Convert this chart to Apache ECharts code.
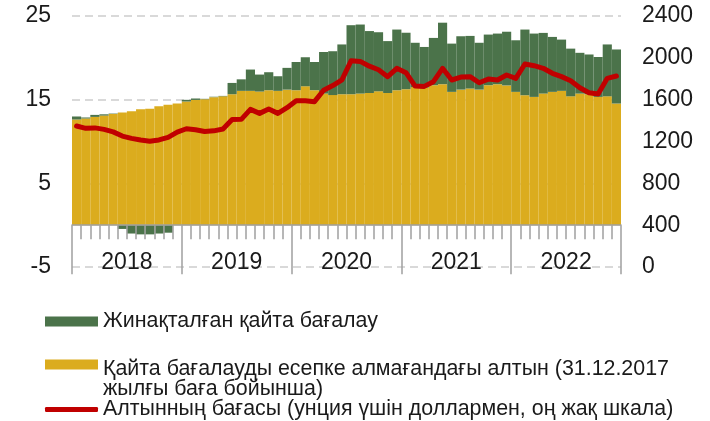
<!DOCTYPE html>
<html><head><meta charset="utf-8">
<script src="https://cdn.jsdelivr.net/npm/echarts@6/dist/echarts.min.js"></script>
<style>html,body{margin:0;padding:0;background:#fff}#c{width:710px;height:421px}</style>
</head><body><div id="c"></div>
<script>
const months = ['2018-01','2018-02','2018-03','2018-04','2018-05','2018-06','2018-07','2018-08','2018-09','2018-10','2018-11','2018-12',
'2019-01','2019-02','2019-03','2019-04','2019-05','2019-06','2019-07','2019-08','2019-09','2019-10','2019-11','2019-12',
'2020-01','2020-02','2020-03','2020-04','2020-05','2020-06','2020-07','2020-08','2020-09','2020-10','2020-11','2020-12',
'2021-01','2021-02','2021-03','2021-04','2021-05','2021-06','2021-07','2021-08','2021-09','2021-10','2021-11','2021-12',
'2022-01','2022-02','2022-03','2022-04','2022-05','2022-06','2022-07','2022-08','2022-09','2022-10','2022-11','2022-12'];
const years = ['2018','2019','2020','2021','2022'];
const goldExRevaluation = [12.63,12.75,12.94,13.1,13.3,13.46,13.62,13.86,13.9,14.22,14.38,14.54,
14.78,14.97,15.05,15.3,15.4,15.65,16.05,16.05,15.97,16.13,16.05,16.2,
16.13,16.6,16.13,15.73,15.55,15.65,15.65,15.73,15.8,16.0,15.8,16.13,
16.25,16.5,16.45,16.73,16.85,15.93,16.2,16.33,16.2,16.73,16.85,16.7,
15.93,15.53,15.33,15.73,15.93,16.05,15.4,15.73,15.65,15.33,15.4,14.54];
const revaluation = [0.36,0.12,0.24,0.15,0.05,-0.45,-1.0,-1.1,-1.1,-1.0,-0.9,0.0,
0.2,0.17,0.05,0.05,0.05,1.35,1.38,2.55,2.03,2.15,1.75,2.6,
3.37,3.47,3.37,4.97,5.24,5.95,8.25,8.25,7.4,7.06,6.2,7.25,
6.75,5.3,4.85,5.65,7.35,5.77,6.38,6.29,5.6,6.05,6.05,6.42,
6.17,7.85,7.57,7.25,6.57,6.13,5.7,4.87,4.75,4.77,6.2,6.46];
const goldPrice = [1348,1326,1330,1316,1292,1252,1230,1214,1203,1215,1240,1290,
1322,1312,1295,1302,1320,1410,1412,1507,1469,1510,1469,1523,
1590,1590,1581,1690,1735,1790,1972,1966,1920,1886,1820,1900,
1858,1730,1727,1772,1900,1788,1816,1820,1762,1797,1788,1836,
1804,1941,1925,1900,1852,1820,1781,1714,1666,1654,1804,1826];
const leftAxisRange = [-5, 25, 10];
const rightAxisRange = [0, 2400, 400];
const nameGreen = 'Жинақталған қайта бағалау';
const nameYellow = 'Қайта бағалауды есепке алмағандағы алтын (31.12.2017 жылғы баға бойынша)';
const yellowLines = ['Қайта бағалауды есепке алмағандағы алтын (31.12.2017', 'жылғы баға бойынша)'];
const nameRed = 'Алтынның бағасы (унция үшін доллармен, оң жақ шкала)';

const FONT = '"Liberation Sans", Arial, sans-serif';
const GREEN = '#4b734a', YELLOW = '#dbac1e', RED = '#c00000', AX = '#a0a0a0', TXT = '#1a1a1a';
const LFS = 21.4;

const chart = echarts.init(document.getElementById('c'), null, {renderer: 'canvas'});
chart.setOption({
  animation: false,
  textStyle: {fontFamily: FONT},
  grid: {left: 72, right: 89, top: 16, bottom: 154, containLabel: false},
  legend: [
    {data: [nameGreen], left: 45, top: 311, padding: 0, itemWidth: 53, itemHeight: 10, icon: 'rect',
     textStyle: {fontSize: LFS, color: TXT, fontFamily: FONT}},
    {data: [nameYellow], left: 45, top: 358.5, padding: 0, itemWidth: 53, itemHeight: 39,
     icon: 'path://M0,0L53,0L53,10L0,10Z M0,39L0.01,39L0,39.01Z',
     formatter: function () { return yellowLines.join('\n'); },
     textStyle: {fontSize: LFS, color: TXT, fontFamily: FONT, lineHeight: 20}},
    {data: [nameRed], left: 45, top: 399, padding: 0, itemWidth: 53, itemHeight: 5, icon: 'roundRect',
     textStyle: {fontSize: LFS, color: TXT, fontFamily: FONT}}
  ],
  xAxis: [
    {type: 'category', data: months, boundaryGap: true, position: 'bottom', z: 5,
     axisLine: {show: true, onZero: true, lineStyle: {color: AX, width: 1.5}},
     axisTick: {show: true, interval: 0, length: 14, lineStyle: {color: AX, width: 1.5}},
     axisLabel: {show: false}},
    {type: 'category', data: years, boundaryGap: true, position: 'bottom', offset: -41.8, z: 5,
     axisLine: {show: false, onZero: false},
     axisTick: {show: true, interval: 0, length: 49, lineStyle: {color: AX, width: 1.5}},
     axisLabel: {show: true, interval: 0, margin: 26, fontSize: 23, color: TXT, fontFamily: FONT}}
  ],
  yAxis: [
    {type: 'value', min: leftAxisRange[0], max: leftAxisRange[1], interval: leftAxisRange[2], position: 'left',
     axisLine: {show: false}, axisTick: {show: false},
     axisLabel: {margin: 21, fontSize: 23, color: TXT, fontFamily: FONT},
     splitLine: {show: true, lineStyle: {color: '#d9d9d9', width: 2, type: [8, 5]}}},
    {type: 'value', min: rightAxisRange[0], max: rightAxisRange[1], interval: rightAxisRange[2], position: 'right',
     axisLine: {show: false}, axisTick: {show: false},
     axisLabel: {margin: 21, fontSize: 23, color: TXT, fontFamily: FONT, formatter: function (v) { return String(v); }},
     splitLine: {show: false}}
  ],
  series: [
    {name: nameYellow, type: 'bar', stack: 'gold', data: goldExRevaluation, xAxisIndex: 0, yAxisIndex: 0,
     barCategoryGap: '0%', itemStyle: {color: YELLOW}},
    {name: nameGreen, type: 'bar', stack: 'gold', data: revaluation, xAxisIndex: 0, yAxisIndex: 0,
     barCategoryGap: '0%', itemStyle: {color: GREEN}},
    {name: nameRed, type: 'line', data: goldPrice, xAxisIndex: 0, yAxisIndex: 1, showSymbol: false, symbol: 'none',
     z: 4, lineStyle: {color: RED, width: 5, join: 'round', cap: 'round'}, itemStyle: {color: RED}}
  ]
});
</script></body></html>
